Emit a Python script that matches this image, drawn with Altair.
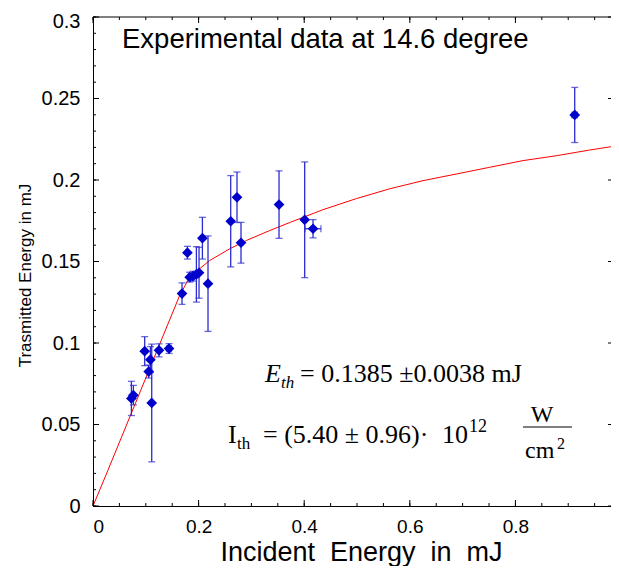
import altair as alt
import pandas as pd

# ---------------- data ----------------
incident = [0.0727, 0.0765, 0.0979, 0.1087, 0.1055, 0.1112, 0.1250, 0.1440,
            0.1686, 0.1788, 0.1831, 0.1894, 0.1958, 0.2008, 0.2072, 0.2178,
            0.2608, 0.2727, 0.2803, 0.3523, 0.4009, 0.4167, 0.9123]
transmitted = [0.0660, 0.0680, 0.0950, 0.0898, 0.0825, 0.0632, 0.0955, 0.0966,
               0.1303, 0.1554, 0.1404, 0.1410, 0.1421, 0.1431, 0.1643, 0.1364,
               0.1747, 0.1894, 0.1615, 0.1849, 0.1756, 0.1701, 0.2399]
trans_err = [0.0105, 0.0060, 0.0089, 0.0080, 0.0040, 0.0361, 0.0040, 0.0030,
             0.0066, 0.0039, 0.0030, 0.0030, 0.0170, 0.0156, 0.0128, 0.0293,
             0.0280, 0.0155, 0.0125, 0.0207, 0.0355, 0.0056, 0.0169]
inc_err = [0, 0, 0, 0, 0, 0, 0, 0.004,
           0, 0, 0, 0, 0, 0, 0, 0,
           0, 0, 0, 0, 0, 0.015, 0.005]

fit_x = [0.0, 0.0284, 0.1642, 0.1831, 0.2021, 0.2210, 0.2589, 0.2905, 0.3347,
         0.3725, 0.4356, 0.4989, 0.5619, 0.6250, 0.6883, 0.7513, 0.8144,
         0.8777, 0.9407, 0.9943]
fit_y = [0.0, 0.0220, 0.1292, 0.1404, 0.1456, 0.1506, 0.1578, 0.1629, 0.1690,
         0.1739, 0.1818, 0.1886, 0.1946, 0.1996, 0.2037, 0.2078, 0.2119,
         0.2149, 0.2184, 0.2211]

x_major = [0, 0.2, 0.4, 0.6, 0.8]
x_minor = [0, 0.05, 0.1, 0.15, 0.2, 0.25, 0.3, 0.35, 0.4, 0.45, 0.5, 0.55,
           0.6, 0.65, 0.7, 0.75, 0.8, 0.85, 0.9, 0.95]
y_major = [0, 0.05, 0.1, 0.15, 0.2, 0.25, 0.3]
y_minor = [0, 0.01, 0.02, 0.03, 0.04, 0.05, 0.06, 0.07, 0.08, 0.09, 0.1,
           0.11, 0.12, 0.13, 0.14, 0.15, 0.16, 0.17, 0.18, 0.19, 0.2, 0.21,
           0.22, 0.23, 0.24, 0.25, 0.26, 0.27, 0.28, 0.29, 0.3]

# ---------------- tables ----------------
pts = pd.DataFrame({"x": incident, "y": transmitted, "ey": trans_err, "ex": inc_err})
pts["ylo"] = pts["y"] - pts["ey"]
pts["yhi"] = pts["y"] + pts["ey"]
pts["xlo"] = pts["x"] - pts["ex"]
pts["xhi"] = pts["x"] + pts["ex"]
hx = pts[pts["ex"] > 0]
fit = pd.DataFrame({"x": fit_x, "y": fit_y})
one = pd.DataFrame({"a": [0]})
xmaj = pd.DataFrame({"v": x_major})
xmin = pd.DataFrame({"v": x_minor})
ymaj = pd.DataFrame({"v": y_major})
ymin = pd.DataFrame({"v": y_minor})

SANS = "Liberation Sans, Arial, Helvetica, sans-serif"
SERIF = "Liberation Serif, Times New Roman, serif"
BLUE = "#0000cc"
EBAR = "#2b2bd0"

W, H = 518, 489
xs = alt.Scale(domain=[0, 0.981], nice=False)
ys = alt.Scale(domain=[0, 0.3], nice=False)

ax_main = alt.Axis(orient="bottom", values=x_major, ticks=False, domain=True,
                   domainColor="black", domainWidth=1, grid=False, format="~g",
                   labelFont=SANS, labelFontSize=19, labelColor="black",
                   labelPadding=11,
                   title="Incident\u00a0\u00a0Energy\u00a0\u00a0in\u00a0\u00a0mJ",
                   titleFont=SANS, titleFontSize=27, titleFontWeight="normal",
                   titleColor="black", titleX=268, titleY=54,
                   titleAlign="center", titleBaseline="alphabetic")
ay_main = alt.Axis(orient="left", values=y_major, ticks=False, domain=True,
                   domainColor="black", domainWidth=1, grid=False, format="~g",
                   labelFont=SANS, labelFontSize=20, labelColor="black",
                   labelPadding=13,
                   labelOffset={"condition": {"test": "datum.value >= 0.29", "value": 4},
                                "value": 0},
                   title="Trasmitted Energy in mJ", titleFont=SANS,
                   titleFontSize=17, titleFontWeight="normal",
                   titleColor="black", titleX=-68, titleY=258,
                   titleAlign="center", titleBaseline="middle", titleAngle=-90)

curve = alt.Chart(fit).mark_line(color="#ff0000", strokeWidth=1).encode(
    x=alt.X("x:Q", scale=xs, axis=ax_main),
    y=alt.Y("y:Q", scale=ys, axis=ay_main),
)

NOAX = dict(axis=None)


# inward tick marks, positioned by the shared scales
def xticks(df, y0, y1):
    return alt.Chart(df).mark_rule(color="black", strokeWidth=1).encode(
        x=alt.X("v:Q", scale=xs, **NOAX), y=alt.value(y0), y2=alt.value(y1))


def yticks(df, x0, x1):
    return alt.Chart(df).mark_rule(color="black", strokeWidth=1).encode(
        y=alt.Y("v:Q", scale=ys, **NOAX), x=alt.value(x0), x2=alt.value(x1))


tick_layers = [
    xticks(xmin, H, H - 3), xticks(xmaj, H, H - 6),
    xticks(xmin, 0, 3), xticks(xmaj, 0, 6),
    yticks(ymin, 0, 3), yticks(ymaj, 0, 6),
    yticks(ymaj, W, W - 3),
]
top_frame = alt.Chart(one).mark_rule(color="black", strokeWidth=1).encode(
    x=alt.value(0), x2=alt.value(W), y=alt.value(0))

vbars = alt.Chart(pts).mark_rule(color=EBAR, strokeWidth=1.3).encode(
    x=alt.X("x:Q", scale=xs, **NOAX),
    y=alt.Y("ylo:Q", scale=ys, **NOAX), y2="yhi:Q")
caps_lo = alt.Chart(pts).mark_tick(color=EBAR, orient="horizontal", size=7, thickness=1.3).encode(
    x=alt.X("x:Q", scale=xs, **NOAX), y=alt.Y("ylo:Q", scale=ys, **NOAX))
caps_hi = alt.Chart(pts).mark_tick(color=EBAR, orient="horizontal", size=7, thickness=1.3).encode(
    x=alt.X("x:Q", scale=xs, **NOAX), y=alt.Y("yhi:Q", scale=ys, **NOAX))
hbars = alt.Chart(hx).mark_rule(color=EBAR, strokeWidth=1.3).encode(
    x=alt.X("xlo:Q", scale=xs, **NOAX), x2="xhi:Q",
    y=alt.Y("y:Q", scale=ys, **NOAX))
hcaps_lo = alt.Chart(hx).mark_tick(color=EBAR, orient="vertical", size=7, thickness=1.3).encode(
    x=alt.X("xlo:Q", scale=xs, **NOAX), y=alt.Y("y:Q", scale=ys, **NOAX))
hcaps_hi = alt.Chart(hx).mark_tick(color=EBAR, orient="vertical", size=7, thickness=1.3).encode(
    x=alt.X("xhi:Q", scale=xs, **NOAX), y=alt.Y("y:Q", scale=ys, **NOAX))
diamonds = alt.Chart(pts).mark_point(shape="diamond", filled=True, size=115,
                                      color=BLUE, opacity=1).encode(
    x=alt.X("x:Q", scale=xs, **NOAX), y=alt.Y("y:Q", scale=ys, **NOAX))


def txt(s, x, y, size, font, style="normal", align="left"):
    return alt.Chart(one).mark_text(text=s, font=font, fontSize=size,
                                    fontStyle=style, align=align,
                                    baseline="alphabetic", color="black").encode(
        x=alt.value(x), y=alt.value(y))


texts = [
    txt("Experimental data at 14.6 degree", 29, 31, 27.5, SANS),
    txt("E", 172, 365, 26, SERIF, "italic"),
    txt("th", 188, 371, 17, SERIF, "italic"),
    txt("= 0.1385 \u00b10.0038 mJ", 207, 365, 26, SERIF),
    txt("I", 135, 426, 26, SERIF),
    txt("th", 144, 432, 17, SERIF),
    txt("= (5.40 \u00b1 0.96)\u00b7", 170, 426, 26, SERIF),
    txt("10", 349, 426, 26, SERIF),
    txt("12", 376, 415, 18, SERIF),
    txt("W", 449, 405, 24, SERIF, align="center"),
    txt("cm", 432, 441, 24, SERIF),
    txt("2", 464, 432, 16, SERIF),
]
frac_line = alt.Chart(one).mark_rule(color="black", strokeWidth=1).encode(
    x=alt.value(430), x2=alt.value(479), y=alt.value(410))

chart = alt.layer(
    curve, *tick_layers, top_frame,
    vbars, caps_lo, caps_hi, hbars, hcaps_lo, hcaps_hi, diamonds,
    frac_line, *texts,
).resolve_scale(x="shared", y="shared").resolve_axis(
    x="independent", y="independent"
).properties(
    width=W, height=H,
    autosize=alt.AutoSizeParams(type="none"),
    padding={"left": 85, "top": 9, "right": 0, "bottom": 60},
    background="white",
).configure_view(strokeWidth=0)

chart.save("out.html", embed_options={"renderer": "svg", "actions": False})
